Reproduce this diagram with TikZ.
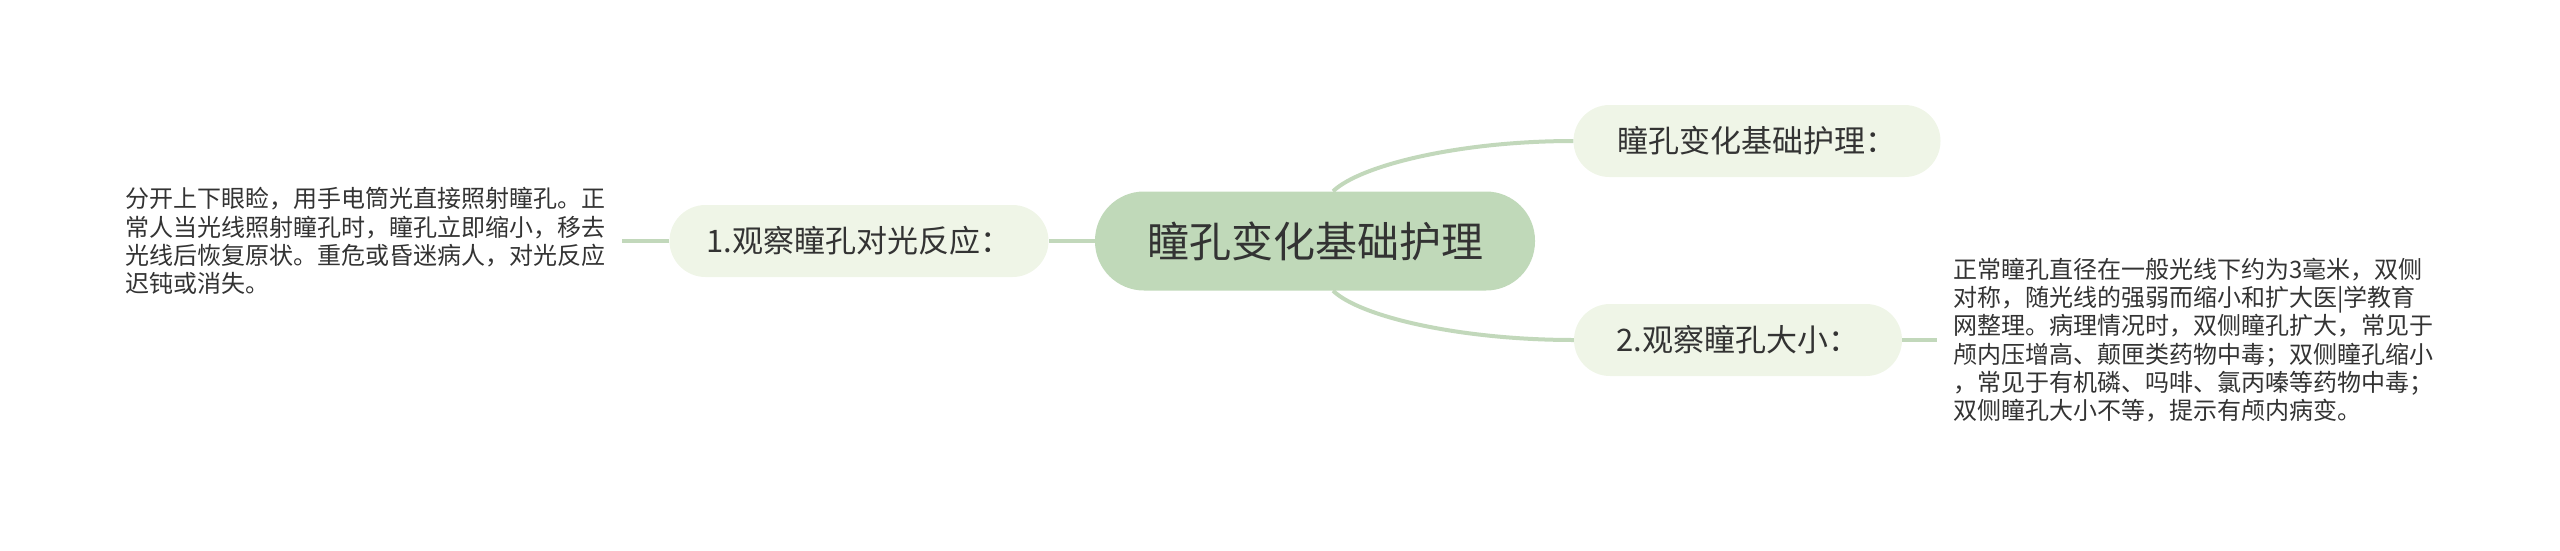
\documentclass[tikz,border=0pt]{standalone}
\usepackage{fontspec}
\setmainfont{Noto Sans CJK SC}
\usetikzlibrary{positioning}
\definecolor{rootgreen}{RGB}{192,217,185}
\definecolor{leafgreen}{RGB}{239,245,231}
\definecolor{linkgreen}{RGB}{194,216,187}
\definecolor{inkgrey}{RGB}{51,51,51}

\begin{document}
\begin{tikzpicture}[x=1pt, y=-1pt,
    rootbox/.style={fill=rootgreen, rounded corners=49pt, minimum height=99pt, text=inkgrey, font=\fontsize{42}{48}\selectfont, text centered},
    leafbox/.style={fill=leafgreen, rounded corners=36pt, minimum height=72pt, text=inkgrey, font=\fontsize{31}{36}\selectfont, text centered},
    notetext/.style={align=left, inner xsep=16pt, text=inkgrey, font=\fontsize{24}{28.3}\selectfont},
    link/.style={draw=linkgreen, line width=4pt}]
    \useasboundingbox (0,0) rectangle (2560,550);

    % Nodes
    \node (root) [rootbox, minimum width=440pt] at (1315,241) {瞳孔变化基础护理};
    \node (basic) [leafbox, minimum width=367pt] at (1757,141) {瞳孔变化基础护理：};
    \node (light) [leafbox, minimum width=379pt] at (859,241) {1.观察瞳孔对光反应：};
    \node (size) [leafbox, minimum width=328pt] at (1738,340) {2.观察瞳孔大小：};
    \node (lighttext) [notetext, anchor=east] at (622,241) {分开上下眼睑，用手电筒光直接照射瞳孔。正\\常人当光线照射瞳孔时，瞳孔立即缩小，移去\\光线后恢复原状。重危或昏迷病人，对光反应\\迟钝或消失。};
    \node (sizetext) [notetext, anchor=west] at (1937,340) {正常瞳孔直径在一般光线下约为3毫米，双侧\\对称，随光线的强弱而缩小和扩大医|学教育\\网整理。病理情况时，双侧瞳孔扩大，常见于\\颅内压增高、颠匣类药物中毒；双侧瞳孔缩小\\，常见于有机磷、吗啡、氯丙嗪等药物中毒；\\双侧瞳孔大小不等，提示有颅内病变。};

    % Lines
    \draw [link] ([xshift=18pt]root.north) .. controls +(27,-26) and +(-114,0) .. (basic.west);
    \draw [link] ([xshift=18pt]root.south) .. controls +(27,26) and +(-114,0) .. (size.west);
    \draw [link] (root.west) -- (light.east);
    \draw [link] (light.west) -- (lighttext.east);
    \draw [link] (size.east) -- (sizetext.west);

\end{tikzpicture}
\end{document}
